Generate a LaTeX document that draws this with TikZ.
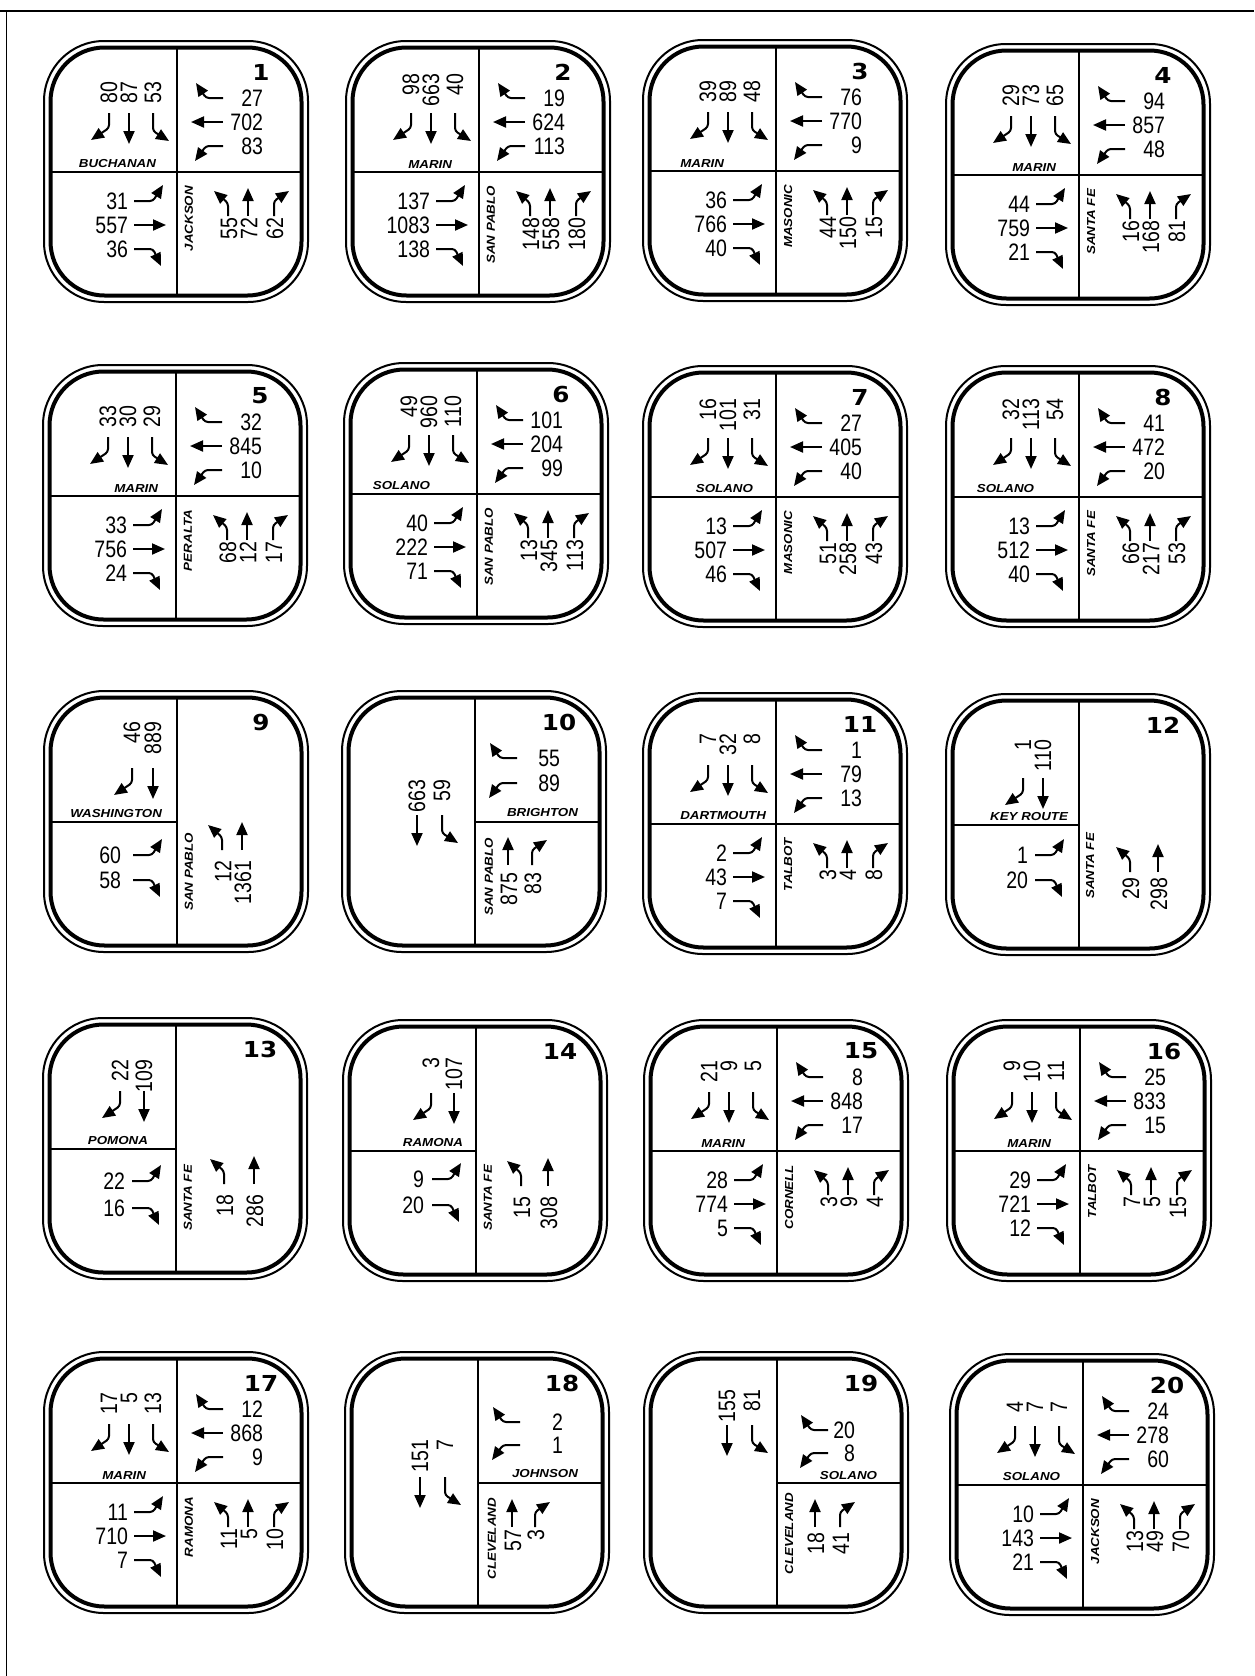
\documentclass[tikz,border=0pt]{standalone}
\usepackage{fontspec}
\setmainfont{Liberation Sans}
\usetikzlibrary{arrows.meta}
\newfontfamily\numfont[FakeStretch=0.82]{Liberation Sans}
\newfontfamily\stfont[FakeStretch=1.15]{Liberation Sans}
\newfontfamily\pnfont[FakeStretch=1.12]{DejaVu Sans}
\newcommand\numsty{\numfont\fontsize{11.9}{12}\selectfont}
\newcommand\ststy{\stfont\bfseries\itshape\fontsize{5.8}{6}\selectfont}
\newcommand\pnsty{\pnfont\bfseries\fontsize{11}{12}\selectfont}
\tikzset{
 every node/.style={inner sep=0pt, outer sep=0pt},
 mvarrow/.style={line width=1pt, -{Triangle[length=6.5pt,width=5.5pt]}, rounded corners=1.5pt},
 numtxt/.style={font=\numsty},
 streetname/.style={font=\ststy},
 panelnum/.style={font=\pnsty},
 divline/.style={line width=0.7pt},
 outerframe/.style={line width=1pt, rounded corners=30pt},
 innerframe/.style={line width=2pt, rounded corners=27pt},
}
% southbound (NW quadrant)
\newcommand\qSBnum[3]{\node[numtxt, rotate=90, anchor=east] (sb#3) at (#1,\qSB) {#2};}
\newcommand\pSBR[2]{\draw[mvarrow] (#1,\qSA) -- (#1,\qSA+15) -- (#1-18,\qSA+27); \qSBnum{#1}{#2}{R}}
\newcommand\pSBT[2]{\draw[mvarrow] (#1,\qSA) -- (#1,\qSA+31); \qSBnum{#1}{#2}{T}}
\newcommand\pSBL[2]{\draw[mvarrow] (#1,\qSA) -- (#1,\qSA+18) -- (#1+16,\qSA+28); \qSBnum{#1}{#2}{L}}
% northbound (SE quadrant)
\newcommand\qNBnum[3]{\node[numtxt, rotate=90, anchor=east] (nb#3) at (#1+1,\qNB) {#2};}
\newcommand\pNBL[2]{\draw[mvarrow] (#1,\qNA) -- (#1,\qNA-13) -- (#1-14,\qNA-25); \qNBnum{#1}{#2}{L}}
\newcommand\pNBT[2]{\draw[mvarrow] (#1,\qNA) -- (#1,\qNA-28); \qNBnum{#1}{#2}{T}}
\newcommand\pNBR[2]{\draw[mvarrow] (#1,\qNA) -- (#1,\qNA-15) -- (#1+15,\qNA-25); \qNBnum{#1}{#2}{R}}
% westbound (NE quadrant)
\newcommand\pWBR[2]{\draw[mvarrow] (\qAX,#1) -- (\qAX-17,#1) -- (\qAX-27,#1-15); \node[numtxt,anchor=east] (wbR) at (\qNX,#1) {#2};}
\newcommand\pWBT[2]{\draw[mvarrow] (\qAX,#1) -- (\qAX-32,#1); \node[numtxt,anchor=east] (wbT) at (\qNX,#1) {#2};}
\newcommand\pWBL[2]{\draw[mvarrow] (\qAX,#1) -- (\qAX-17,#1) -- (\qAX-28,#1+15); \node[numtxt,anchor=east] (wbL) at (\qNX,#1) {#2};}
% eastbound (SW quadrant)
\newcommand\pEBL[2]{\draw[mvarrow] (\qBX,#1) -- (\qBX+19,#1) -- (\qBX+29,#1-16); \node[numtxt,anchor=east] (ebL) at (\qMX,#1) {#2};}
\newcommand\pEBT[2]{\draw[mvarrow] (\qBX,#1) -- (\qBX+32,#1); \node[numtxt,anchor=east] (ebT) at (\qMX,#1) {#2};}
\newcommand\pEBR[2]{\draw[mvarrow] (\qBX,#1) -- (\qBX+19,#1) -- (\qBX+27,#1+17); \node[numtxt,anchor=east] (ebR) at (\qMX,#1) {#2};}
% groups
\newcommand\qSBgroup[3]{\pSBR{-68}{#1}\pSBT{-48}{#2}\pSBL{-24}{#3}}
\newcommand\qWBgroup[3]{\pWBR{-74}{#1}\pWBT{-50}{#2}\pWBL{-26}{#3}}
\newcommand\qEBgroup[3]{\pEBL{29}{#1}\pEBT{53}{#2}\pEBR{77}{#3}}
\newcommand\qNBgroup[3]{\pNBL{51}{#1}\pNBT{71}{#2}\pNBR{97}{#3}}
% frame: 0 full cross, 1 left T, 2 right T
\newcommand\qFrame[1]{%
  \draw[divline] (0,-124.5) -- (0,123.5);
  \ifcase#1 \draw[divline] (-126.5,0) -- (124.5,0);
  \or \draw[divline] (-126.5,0) -- (0,0);
  \or \draw[divline] (0,0) -- (124.5,0);
  \fi
  \draw[outerframe] (-133,-131) rectangle (131,130);
  \draw[innerframe] (-126.5,-124.5) rectangle (124.5,123.5);
}
\def\qEWX{-22}
\def\qTOP{-90}
\newcommand\fullpanel[9]{%
 \begin{scope}[shift={(#1,#2)}, name prefix=p#3-]
  \qFrame{0}
  \node[panelnum] (num) at (84,-100) {#3};
  \node[streetname, anchor=south east] (ew) at (\qEWX,-4) {#4};
  \node[streetname, rotate=90, anchor=east] (ns) at (12,14) {#5};
  \def\qSA{-59}\let\qSB\qTOP
  \qSBgroup#6
  \def\qAX{46}\def\qNX{86}
  \qWBgroup#7
  \def\qBX{-43}\def\qMX{-49}
  \qEBgroup#8
  \def\qNA{44}\def\qNB{46}
  \qNBgroup#9
 \end{scope}}
\begin{document}
\begin{tikzpicture}[x=0.5pt,y=-0.5pt]
\useasboundingbox (0,0) rectangle (1254,1676);
\draw[line width=1pt] (0,11) -- (1254,11);
\draw[line width=0.8pt] (6.5,11) -- (6.5,1676);

\def\qTOP{-90}\def\qEWX{-21}\fullpanel{177}{172}{1}{BUCHANAN}{JACKSON}{{80}{87}{53}}{{27}{702}{83}}{{31}{557}{36}}{{55}{72}{62}}
\def\qTOP{-98}\def\qEWX{-27}\fullpanel{479}{172}{2}{MARIN}{SAN PABLO}{{98}{663}{40}}{{19}{624}{113}}{{137}{1083}{138}}{{148}{558}{180}}
\def\qTOP{-90}\def\qEWX{-52}\fullpanel{776}{171}{3}{MARIN}{MASONIC}{{39}{89}{48}}{{76}{770}{9}}{{36}{766}{40}}{{44}{150}{15}}
\def\qTOP{-90}\def\qEWX{-23}\fullpanel{1079}{175}{4}{MARIN}{SANTA FE}{{29}{73}{65}}{{94}{857}{48}}{{44}{759}{21}}{{16}{168}{81}}
\def\qTOP{-90}\def\qEWX{-18}\fullpanel{176}{496}{5}{MARIN}{PERALTA}{{33}{30}{29}}{{32}{845}{10}}{{33}{756}{24}}{{68}{12}{17}}
\def\qTOP{-98}\def\qEWX{-47}\fullpanel{477}{494}{6}{SOLANO}{SAN PABLO}{{49}{960}{110}}{{101}{204}{99}}{{40}{222}{71}}{{13}{345}{113}}
\def\qTOP{-98}\def\qEWX{-23}\fullpanel{776}{497}{7}{SOLANO}{MASONIC}{{16}{101}{31}}{{27}{405}{40}}{{13}{507}{46}}{{51}{258}{43}}
\def\qTOP{-98}\def\qEWX{-45}\fullpanel{1079}{497}{8}{SOLANO}{SANTA FE}{{32}{113}{54}}{{41}{472}{20}}{{13}{512}{40}}{{66}{217}{53}}
\def\qTOP{-90}\def\qEWX{-10}\fullpanel{776}{824}{11}{DARTMOUTH}{TALBOT}{{7}{32}{8}}{{1}{79}{13}}{{2}{43}{7}}{{3}{4}{8}}
\def\qTOP{-90}\def\qEWX{-32}\fullpanel{777}{1151}{15}{MARIN}{CORNELL}{{21}{9}{5}}{{8}{848}{17}}{{28}{774}{5}}{{3}{9}{4}}
\def\qTOP{-90}\def\qEWX{-29}\fullpanel{1080}{1151}{16}{MARIN}{TALBOT}{{9}{10}{11}}{{25}{833}{15}}{{29}{721}{12}}{{7}{5}{15}}
\def\qTOP{-90}\def\qEWX{-31}\fullpanel{177}{1483}{17}{MARIN}{RAMONA}{{17}{5}{13}}{{12}{868}{9}}{{11}{710}{7}}{{11}{5}{10}}
\def\qTOP{-83}\def\qEWX{-23}\fullpanel{1083}{1485}{20}{SOLANO}{JACKSON}{{4}{7}{7}}{{24}{278}{60}}{{10}{143}{21}}{{13}{49}{70}}

% panel 9
\begin{scope}[shift={(177,822)}, name prefix=p9-]
 \qFrame{1}
 \node[panelnum] (num) at (84,-100) {9};
 \node[streetname, anchor=south east] (ew) at (-15,-4) {WASHINGTON};
 \node[streetname, rotate=90, anchor=east] (ns) at (12,11) {SAN PABLO};
 \def\qSA{-54}\def\qSB{-100}
 \pSBR{-45}{46}\pSBT{-24}{889}
 \def\qBX{-44}\def\qMX{-56}
 \pEBL{33}{60}\pEBR{58}{58}
 \def\qNA{28}\def\qNB{39}
 \pNBL{45}{12}\pNBT{65}{1361}
\end{scope}
% panel 10
\begin{scope}[shift={(475,822)}, name prefix=p10-]
 \qFrame{2}
 \node[panelnum] (num) at (84,-100) {10};
 \node[streetname, anchor=south east] (ew) at (103,-5) {BRIGHTON};
 \node[streetname, rotate=90, anchor=east] (ns) at (14,16) {SAN PABLO};
 \def\qSA{-7}\def\qSB{-42}
 \pSBT{-58}{663}\pSBL{-33}{59}
 \def\qAX{42}\def\qNX{85}
 \pWBR{-64}{55}\pWBL{-39}{89}
 \def\qNA{43}\def\qNB{51}
 \pNBT{33}{875}\pNBR{57}{83}
\end{scope}
% panel 12
\begin{scope}[shift={(1079,825)}, name prefix=p12-]
 \qFrame{1}
 \node[panelnum] (num) at (84,-100) {12};
 \node[streetname, anchor=south east] (ew) at (-11,-4) {KEY ROUTE};
 \node[streetname, rotate=90, anchor=east] (ns) at (11,8) {SANTA FE};
 \def\qSA{-47}\def\qSB{-85}
 \pSBR{-56}{1}\pSBT{-36}{110}
 \def\qBX{-44}\def\qMX{-51}
 \pEBL{30}{1}\pEBR{55}{20}
 \def\qNA{47}\def\qNB{53}
 \pNBL{51}{29}\pNBT{79}{298}
\end{scope}
% panel 13
\begin{scope}[shift={(176,1149)}, name prefix=p13-]
 \qFrame{1}
 \node[panelnum] (num) at (84,-100) {13};
 \node[streetname, anchor=south east] (ew) at (-28,-4) {POMONA};
 \node[streetname, rotate=90, anchor=east] (ns) at (12,16) {SANTA FE};
 \def\qSA{-58}\def\qSB{-89}
 \pSBR{-56}{22}\pSBT{-32}{109}
 \def\qBX{-44}\def\qMX{-51}
 \pEBL{32}{22}\pEBR{59}{16}
 \def\qNA{35}\def\qNB{46}
 \pNBL{48}{18}\pNBT{78}{286}
\end{scope}
% panel 14
\begin{scope}[shift={(476,1151)}, name prefix=p14-]
 \qFrame{1}
 \node[panelnum] (num) at (84,-100) {14};
 \node[streetname, anchor=south east] (ew) at (-13,-4) {RAMONA};
 \node[streetname, rotate=90, anchor=east] (ns) at (12,14) {SANTA FE};
 \def\qSA{-58}\def\qSB{-93}
 \pSBR{-45}{3}\pSBT{-22}{107}
 \def\qBX{-44}\def\qMX{-52}
 \pEBL{28}{9}\pEBR{54}{20}
 \def\qNA{35}\def\qNB{46}
 \pNBL{45}{15}\pNBT{72}{308}
\end{scope}
% panel 18
\begin{scope}[shift={(478,1483)}, name prefix=p18-]
 \qFrame{2}
 \node[panelnum] (num) at (84,-100) {18};
 \node[streetname, anchor=south east] (ew) at (100,-5) {JOHNSON};
 \node[streetname, rotate=90, anchor=east] (ns) at (14,15) {CLEVELAND};
 \def\qSA{-6}\def\qSB{-43}
 \pSBT{-58}{151}\pSBL{-33}{7}
 \def\qAX{42}\def\qNX{85}
 \pWBR{-61}{2}\pWBL{-38}{1}
 \def\qNA{44}\def\qNB{47}
 \pNBT{34}{57}\pNBR{57}{3}
\end{scope}
% panel 19
\begin{scope}[shift={(777,1483)}, name prefix=p19-]
 \qFrame{2}
 \node[panelnum] (num) at (84,-100) {19};
 \node[streetname, anchor=south east] (ew) at (100,-3) {SOLANO};
 \node[streetname, rotate=90, anchor=east] (ns) at (12,10) {CLEVELAND};
 \def\qSA{-58}\def\qSB{-93}
 \pSBT{-50}{155}\pSBL{-25}{81}
 \def\qAX{51}\def\qNX{78}
 \pWBR{-53}{20}\pWBL{-30}{8}
 \def\qNA{44}\def\qNB{50}
 \pNBT{38}{18}\pNBR{63}{41}
\end{scope}
\end{tikzpicture}
\end{document}
